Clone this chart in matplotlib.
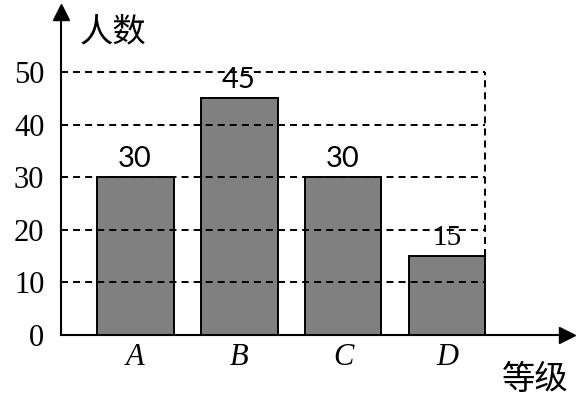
import matplotlib
matplotlib.use('Agg')
import matplotlib.pyplot as plt

# data
grades = ['A', 'B', 'C', 'D']
counts = [30, 45, 30, 15]
yticks = [0, 10, 20, 30, 40, 50]

fig = plt.figure(figsize=(5.86, 4.08), dpi=100)
ax = fig.add_axes([0.1041, 0.1789, 0.8635, 0.7917])

xs = list(range(len(grades)))
width = 0.74
ax.bar(xs, counts, width=width, color='#808080', edgecolor='black', linewidth=1.4, zorder=2)

ax.set_xlim(-0.712, 4.154)
ax.set_ylim(0, 61.4)

# dashed guide lines, drawn over the bars
right = xs[-1] + width / 2
dash = (0, (3.6, 2.6))
for y in yticks[1:]:
    ax.plot([-0.712, right], [y, y], color='black', lw=1.4, linestyle=dash, zorder=3, clip_on=False)
ax.plot([right, right], [counts[-1], yticks[-1]], color='black', lw=1.4, linestyle=dash, zorder=3)

# value labels
for x, v in zip(xs, counts):
    fam = 'Liberation Serif' if v == 15 else 'Lato'
    ax.text(x, v + 1.0, str(v), ha='center', va='bottom', fontsize=21, family=fam, zorder=4)

# axes with arrow heads
for s in ['top', 'right']:
    ax.spines[s].set_visible(False)
for s in ['left', 'bottom']:
    ax.spines[s].set_linewidth(1.5)
ax.plot(1, 0, '>k', markersize=11, transform=ax.transAxes, clip_on=False)
ax.plot(0, 1, '^k', markersize=11, transform=ax.transAxes, clip_on=False)

ax.set_yticks(yticks)
ax.set_yticklabels([str(t) for t in yticks], family='Liberation Serif', fontsize=22)
ax.set_xticks(xs)
ax.set_xticklabels(grades, family='Liberation Serif', style='italic', fontsize=22)
ax.tick_params(axis='both', length=0)
ax.tick_params(axis='y', pad=12)
ax.tick_params(axis='x', pad=6)

fig.text(80 / 586, 1 - 32 / 408, '人数', family='Noto Sans CJK SC', fontsize=24,
         weight='light', va='center', ha='left')
fig.text(502 / 586, 1 - 380 / 408, '等级', family='Noto Sans CJK SC', fontsize=24,
         weight='light', va='center', ha='left')

fig.savefig('out.png', dpi=100)
